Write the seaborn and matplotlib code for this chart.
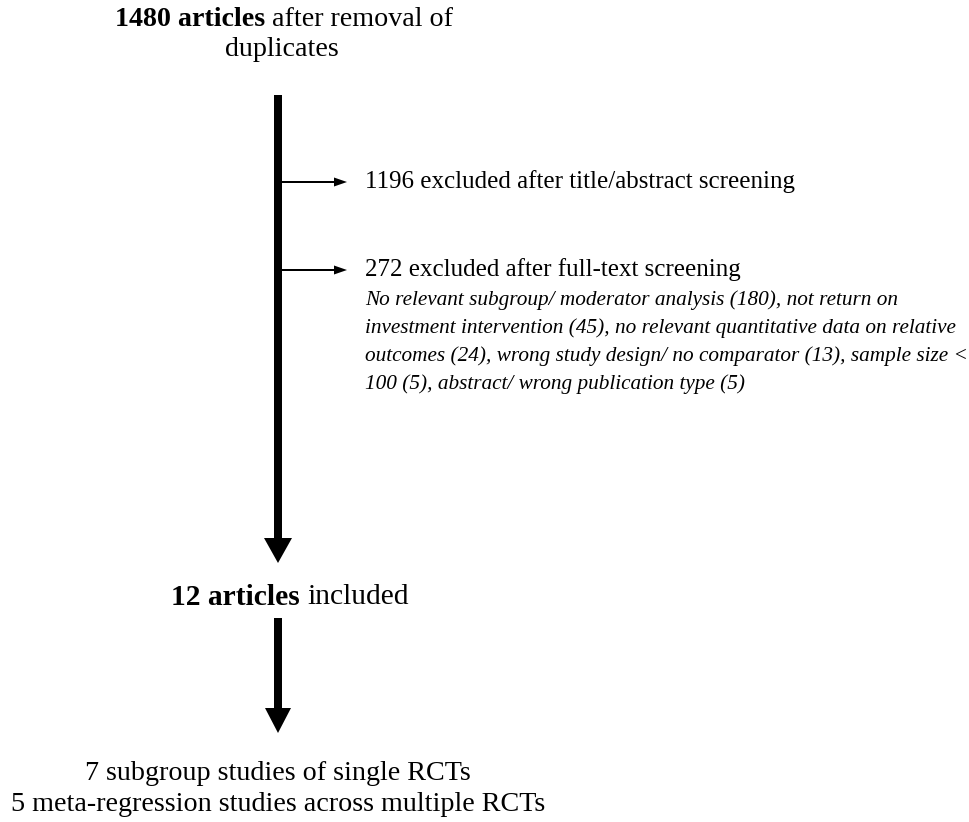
# PRISMA-style flow diagram of article selection
import textwrap
import matplotlib.pyplot as plt
import seaborn as sns

# ---- counts ----
n_after_duplicates = 1480
n_excluded_title = 1196
n_excluded_fulltext = 272
exclusion_reasons = [
    "No relevant subgroup/ moderator analysis",
    "not return on investment intervention",
    "no relevant quantitative data on relative outcomes",
    "wrong study design/ no comparator",
    "sample size < 100",
    "abstract/ wrong publication type",
]
exclusion_counts = [180, 45, 24, 13, 5, 5]
n_included = 12
study_types = ["subgroup studies of single RCTs",
               "meta-regression studies across multiple RCTs"]
study_counts = [7, 5]

sns.set_theme(style="white")
plt.rcParams['font.family'] = ['Liberation Serif', 'DejaVu Serif']

# axes in pixel units (969 x 822), y going down
fig = plt.figure(figsize=(9.69, 8.22), dpi=100)
ax = fig.add_axes([0, 0, 1, 1])
ax.set_xlim(0, 969)
ax.set_ylim(822, 0)
ax.axis('off')
renderer = fig.canvas.get_renderer()


def draw_line(x, y, parts, size, ha='left', style='normal'):
    # parts = [(text, weight), ...] laid out one after the other
    objs = [ax.text(0, y, s, fontsize=size, fontweight=w, fontstyle=style,
                    va='center', color='black') for s, w in parts]
    gap = size * 0.25 * 100 / 72
    widths = [o.get_window_extent(renderer).width for o in objs]
    total = sum(widths) + gap * (len(objs) - 1)
    x0 = x if ha == 'left' else x - total / 2
    for o, w in zip(objs, widths):
        o.set_x(x0)
        x0 += w + gap
    return objs, total


def fit_size(parts, target, style='normal'):
    objs, total = draw_line(0, -100, parts, 20, style=style)
    for o in objs:
        o.remove()
    return 20 * target / total


# ---- top box ----
title1 = [(f"{n_after_duplicates} articles", 'bold'), ("after removal of", 'normal')]
size_top = fit_size(title1, 338)
draw_line(284, 20, title1, size_top, ha='center')
draw_line(282, 50, [("duplicates", 'normal')], size_top, ha='center')

# main vertical arrow
ax.arrow(278, 95, 0, 563 - 95, width=8, head_width=28, head_length=25,
         length_includes_head=True, fc='black', ec='black', lw=0)

# ---- exclusion branches ----
for yb in [182, 270]:
    ax.arrow(278, yb, 347 - 278, 0, width=2, head_width=9, head_length=13,
             length_includes_head=True, fc='black', ec='black', lw=0)

ex1 = [(f"{n_excluded_title} excluded after title/abstract screening", 'normal')]
size_ex = fit_size(ex1, 430)
draw_line(365, 182, ex1, size_ex)
draw_line(365, 270, [(f"{n_excluded_fulltext} excluded after full-text screening",
                      'normal')], size_ex)

reason_text = ", ".join(f"{r} ({c})" for r, c in zip(exclusion_reasons, exclusion_counts))
reason_lines = textwrap.wrap(reason_text, width=71)
size_it = fit_size([(reason_lines[1], 'normal')], 593, style='italic')
for i, ln in enumerate(reason_lines):
    draw_line(365, 300 + 28 * i, [(ln, 'normal')], size_it, style='italic')

# ---- included ----
inc = [(f"{n_included} articles", 'bold'), ("included", 'normal')]
draw_line(290, 597, inc, size_top * 1.05, ha='center')

ax.arrow(278, 618, 0, 733 - 618, width=8, head_width=26, head_length=25,
         length_includes_head=True, fc='black', ec='black', lw=0)

# ---- bottom ----
bottom = [f"{c} {s}" for c, s in zip(study_counts, study_types)]
size_bot = fit_size([(bottom[1], 'normal')], 535)
draw_line(278, 773, [(bottom[0], 'normal')], size_bot, ha='center')
draw_line(278, 804, [(bottom[1], 'normal')], size_bot, ha='center')

fig.savefig('out.png', dpi=100, facecolor='white')
